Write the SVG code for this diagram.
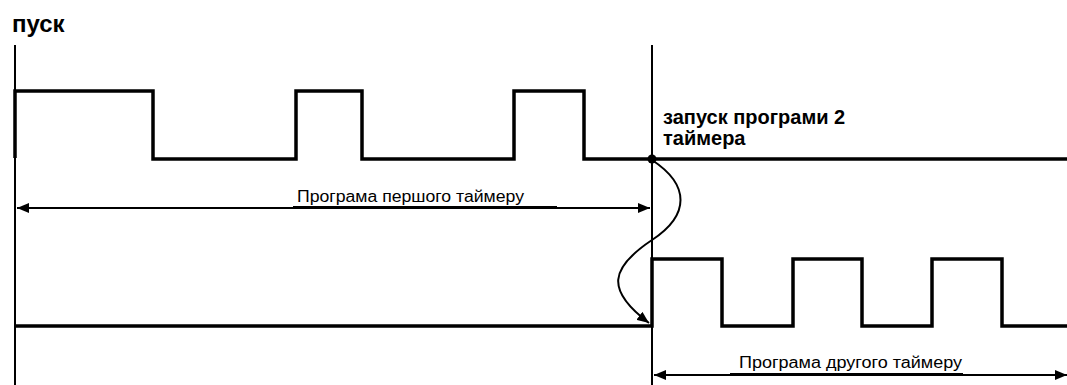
<svg xmlns="http://www.w3.org/2000/svg" width="1067" height="385" viewBox="0 0 1067 385">
<style>
.sig{fill:none;stroke:#000;stroke-width:3.5;stroke-linejoin:miter}
.thin{fill:none;stroke:#000;stroke-width:2}
.lbl{font-family:"Liberation Sans",Arial,sans-serif;font-size:16px;fill:#000}
.bold{font-family:"Liberation Sans",Arial,sans-serif;font-weight:bold;fill:#000}
</style>
<defs>
<marker id="ah" viewBox="0 0 12 10" refX="12" refY="5" markerWidth="12" markerHeight="10" markerUnits="userSpaceOnUse" orient="auto-start-reverse">
<path d="M0,0 L12,5 L0,10 Z" fill="#000"/>
</marker>
</defs>
<g id="labels">
<text class="bold" x="12" y="32" font-size="24">пуск</text>
<text class="bold" x="663" y="124" font-size="20">запуск програми 2</text>
<text class="bold" x="663" y="145" font-size="20">таймера</text>
<text class="lbl" x="297" y="202" textLength="227" lengthAdjust="spacingAndGlyphs">Програма першого таймеру</text>
<text class="lbl" x="739" y="368" textLength="223" lengthAdjust="spacingAndGlyphs">Програма другого таймеру</text>
</g>
<g id="axes">
<line class="thin" x1="15" y1="45" x2="15" y2="385"/>
<line class="thin" x1="652" y1="45" x2="652" y2="385"/>
</g>
<g id="signal1">
<polyline class="sig" points="15,158 15,91 153,91 153,159 296,159 296,91 362,91 362,159 514,159 514,91 584,91 584,159 1067,159"/>
</g>
<g id="signal2">
<polyline class="sig" points="15,326 652,326 652,259 722,259 722,326 793,326 793,259 862,259 862,326 932,326 932,259 1002,259 1002,326 1067,326"/>
</g>
<g id="connectors">
<line class="thin" x1="17" y1="208" x2="650" y2="208" marker-start="url(#ah)" marker-end="url(#ah)"/>
<line x1="293" y1="207" x2="557" y2="207" stroke="#000" stroke-width="2"/>
<line class="thin" x1="654" y1="375" x2="1067" y2="375" marker-start="url(#ah)" marker-end="url(#ah)"/>
<line x1="730" y1="374" x2="963" y2="374" stroke="#000" stroke-width="2"/>
<path class="thin" d="M652,160 C690,185 690,215 652,240 C610,268 605,290 649,323" marker-end="url(#ah)"/>
<circle cx="652" cy="159" r="4.5" fill="#000"/>
</g>
</svg>
